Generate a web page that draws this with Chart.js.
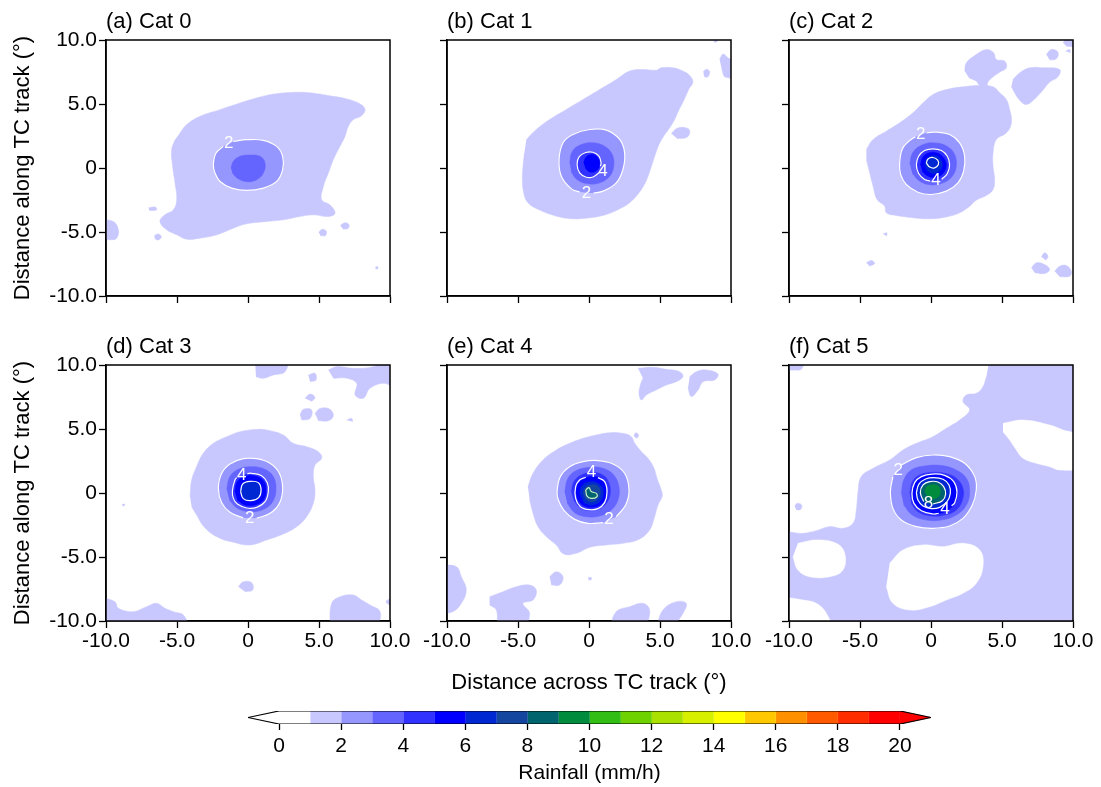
<!DOCTYPE html>
<html>
<head>
<meta charset="utf-8">
<script src="https://cdn.jsdelivr.net/npm/chart.js@4.4.1/dist/chart.umd.min.js"></script>
<style>
  body { margin: 0; background: #fff; width: 1101px; height: 787px; position: relative; overflow: hidden; }
  canvas { position: absolute; }
</style>
</head>
<body>
<script>
const FONT = '"Liberation Sans", Arial, Helvetica, sans-serif';

// rain-rate class edges (mm/h) and their fill colours
const levelEdges = [0,1,2,3,4,5,6,7,8,9,10,11,12,13,14,15,16,17,18,19,20];
const levelColors = ['#ffffff','#c8c8ff','#9696ff','#6464ff','#3232ff','#0000ff','#0028d2','#14469f','#00646e','#008c3c',
  '#32be14','#6ed200','#aae100','#d7f000','#ffff00','#ffc800','#ff9100','#ff5a00','#ff2d00','#ff0000'];
const underColor = '#ffffff';
const overColor = '#ff0000';
const cbTicks = [0,2,4,6,8,10,12,14,16,18,20];
const axisTicks = [-10,-5,0,5,10];

// ---- (a) Cat 0 ----
const catA_rain1 = [
  [[-4.79,2.73],[-4.32,3.39],[-3.38,4.04],[-1.97,4.56],[-0.56,5.08],[0.85,5.55],[2.02,5.81],[3.66,5.92],[4.84,5.81],[6.01,5.60],[6.95,5.40],[7.77,5.08],[8.24,4.61],[8.00,4.09],[7.42,3.78],[7.07,3.26],[6.83,2.47],[6.48,1.69],[6.01,0.65],[5.66,-0.40],[5.31,-1.44],[5.19,-2.48],[5.77,-2.88],[6.13,-3.53],[5.66,-3.79],[4.60,-3.66],[3.66,-3.79],[2.49,-4.05],[1.31,-4.18],[-0.09,-4.36],[-1.03,-4.70],[-2.21,-5.22],[-3.38,-5.48],[-4.32,-5.56],[-5.02,-5.22],[-5.73,-4.83],[-6.20,-4.18],[-5.85,-3.66],[-5.26,-3.27],[-5.02,-2.48],[-5.14,-1.18],[-5.31,0.13],[-5.38,1.43],[-5.14,2.21]],
  [[-10.5,-4.05],[-9.48,-4.18],[-9.13,-4.83],[-9.25,-5.48],[-9.72,-5.61],[-10.5,-5.48]],
  [[-7.0,-3.1],[-6.5,-3.06],[-6.45,-3.28],[-6.95,-3.32]],
  [[-6.6,-5.3],[-6.35,-5.15],[-6.1,-5.35],[-6.3,-5.62],[-6.55,-5.55]],
  [[4.98,-5.0],[5.25,-4.78],[5.52,-4.95],[5.45,-5.28],[5.1,-5.3]],
  [[6.5,-4.5],[6.8,-4.28],[7.1,-4.4],[7.05,-4.72],[6.7,-4.78]],
  [[8.98,-7.72],[9.14,-7.72],[9.14,-7.88],[8.98,-7.88]]
];
const catA_rain2 = [[-1.03,2.08],[-0.09,2.21],[1.08,2.16],[2.02,1.69],[2.44,0.91],[2.44,-0.13],[2.02,-1.05],[1.08,-1.57],[-0.09,-1.75],[-1.15,-1.57],[-1.97,-1.05],[-2.32,-0.40],[-2.44,0.26],[-2.25,1.17],[-1.74,1.69]];
const catA_rain3 = [[-1.20,0.00],[-1.03,0.52],[-0.56,0.91],[0.14,1.01],[0.85,0.91],[1.20,0.39],[1.08,-0.40],[0.61,-0.92],[-0.09,-1.07],[-0.75,-0.81],[-1.10,-0.40]];
const catA_labels = [['2',-1.35,1.92]];

// ---- (b) Cat 1 ----
const catB_rain1 = [
  [[-4.41,2.23],[-3.71,3.01],[-2.77,3.79],[-1.60,4.57],[-0.42,5.35],[0.75,6.13],[1.92,6.91],[2.86,7.57],[3.80,7.70],[4.74,7.64],[5.09,7.83],[5.92,7.83],[6.62,7.57],[7.09,7.23],[7.32,6.71],[7.04,6.18],[6.81,5.61],[6.57,5.04],[6.29,4.44],[6.03,3.79],[5.68,3.14],[5.26,2.49],[4.93,1.84],[4.69,1.13],[4.46,0.35],[4.23,-0.43],[3.94,-1.21],[3.52,-1.94],[2.91,-2.67],[2.16,-3.19],[1.22,-3.63],[0.05,-3.89],[-1.13,-3.97],[-2.30,-3.76],[-3.47,-3.29],[-4.30,-2.72],[-4.60,-1.94],[-4.69,-0.90],[-4.65,0.14],[-4.55,1.18]],
  [[5.8,2.7],[6.2,3.1],[6.8,3.15],[7.1,2.9],[6.9,2.4],[6.2,2.3]],
  [[9.2,8.5],[9.45,8.9],[9.8,8.6],[10.5,8.2],[10.5,7.2],[9.6,7.1],[9.35,7.7]],
  [[8.05,7.55],[8.3,7.72],[8.5,7.5],[8.35,7.1],[8.1,7.15]],
  [[8.7,10.3],[9.1,10.3],[9.0,9.85],[8.8,9.85]]
];
const catB_rain2 = [[-0.65,-1.88],[-1.24,-1.63],[-1.95,-0.64],[-2.11,0.64],[-1.83,1.97],[-1.13,2.62],[0.05,3.01],[1.22,2.96],[2.16,2.23],[2.51,1.18],[2.39,-0.12],[1.92,-1.16],[0.99,-1.81],[0.30,-1.97]];
const catB_rain3 = [[-1.36,0.40],[-1.17,1.31],[-0.54,1.83],[0.28,1.97],[1.10,1.70],[1.64,1.05],[1.74,0.14],[1.46,-0.64],[0.75,-1.16],[-0.07,-1.24],[-0.85,-0.90],[-1.24,-0.33]];
const catB_rain4 = [[0.70,-0.38],[0.28,-0.70],[-0.19,-0.72],[-0.66,-0.38],[-0.84,0.27],[-0.70,0.87],[-0.23,1.21],[0.28,1.23],[0.70,0.92],[0.85,0.40],[0.80,0.14]];
const catB_rain5 = [[-0.38,0.40],[-0.19,0.87],[0.23,1.05],[0.63,0.79],[0.75,0.27],[0.56,-0.17],[0.12,-0.33],[-0.23,-0.07]];
const catB_labels = [['2',-0.18,-1.98],['4',0.98,-0.25]];

// ---- (c) Cat 2 ----
const catC_rain1 = [
  [[-4.55,1.45],[-4.08,2.23],[-3.15,2.88],[-2.21,3.53],[-1.27,4.31],[-0.56,5.09],[0.14,5.74],[1.08,6.13],[2.25,6.34],[3.43,6.45],[4.37,6.34],[4.84,5.87],[5.31,5.35],[5.54,4.57],[5.66,3.92],[5.61,3.27],[5.26,2.70],[4.60,2.23],[4.37,1.18],[4.37,0.14],[4.48,-0.90],[4.37,-1.68],[3.90,-2.15],[3.19,-2.51],[2.68,-3.03],[2.02,-3.50],[1.08,-3.82],[-0.09,-3.97],[-1.27,-3.89],[-2.44,-3.71],[-3.15,-3.50],[-3.26,-2.98],[-3.80,-2.46],[-4.08,-1.42],[-4.32,-0.38],[-4.55,0.66]],
  [[2.37,7.57],[2.49,8.22],[3.08,8.79],[3.90,9.26],[4.41,9.00],[4.60,8.48],[5.19,8.35],[5.31,7.83],[4.84,7.49],[4.37,7.12],[4.01,6.71],[3.90,6.34],[3.47,6.39],[3.19,6.78],[2.68,7.04]],
  [[5.77,6.91],[6.24,7.43],[6.95,7.83],[7.89,7.83],[9.06,7.70],[8.94,7.12],[8.36,6.71],[7.89,6.09],[7.30,5.40],[6.71,4.96],[6.24,5.30],[5.89,5.87],[5.66,6.39]],
  [[8.12,8.87],[8.47,9.26],[8.94,9.05],[8.83,8.53],[8.36,8.43]],
  [[9.30,9.78],[9.65,10.3],[10.5,10.3],[10.5,9.52],[9.53,9.52]],
  [[9.48,9.13],[9.77,9.26],[9.81,9.00]],
  [[7.07,-7.80],[7.42,-7.41],[8.00,-7.54],[8.36,-7.93],[8.00,-8.24],[7.30,-8.18]],
  [[8.71,-8.06],[9.06,-7.67],[9.53,-7.62],[9.88,-8.06],[9.77,-8.45],[9.06,-8.50]],
  [[7.77,-6.94],[8.00,-6.63],[8.24,-6.89],[8.08,-7.20]],
  [[-4.55,-7.41],[-4.20,-7.23],[-3.97,-7.46],[-4.32,-7.67]],
  [[-3.38,-5.14],[-3.10,-5.07],[-3.15,-5.33]]
];
const catC_rain2 = [[-0.30,2.75],[0.38,2.80],[1.31,2.62],[2.02,1.97],[2.37,0.92],[2.30,-0.25],[1.90,-1.16],[1.08,-1.81],[0.02,-2.07],[-0.92,-1.89],[-1.74,-1.29],[-2.14,-0.51],[-2.21,0.40],[-2.02,1.49],[-1.55,2.10],[-1.10,2.45]];
const catC_rain3 = [[-1.50,0.35],[-1.27,1.23],[-0.56,1.83],[0.26,1.96],[1.13,1.70],[1.67,1.05],[1.78,0.14],[1.50,-0.64],[0.85,-1.16],[0.02,-1.32],[-0.80,-1.03],[-1.31,-0.43]];
const catC_rain4 = [[-0.05,-1.02],[-0.45,-0.90],[-0.87,-0.43],[-1.03,0.25],[-0.87,0.92],[-0.45,1.37],[0.14,1.50],[0.73,1.37],[1.15,0.92],[1.31,0.25],[1.15,-0.43],[0.75,-0.88]];
const catC_rain5 = [[-0.75,0.25],[-0.56,0.87],[-0.16,1.18],[0.42,1.18],[0.89,0.79],[1.08,0.20],[0.85,-0.43],[0.33,-0.72],[-0.21,-0.64],[-0.61,-0.27]];
const catC_rain6 = [[-0.45,0.27],[-0.26,0.77],[0.19,0.98],[0.61,0.79],[0.80,0.27],[0.61,-0.22],[0.14,-0.43],[-0.28,-0.20]];
const catC_inner = [[-0.33,0.40],[-0.21,0.71],[0.14,0.82],[0.47,0.61],[0.52,0.27],[0.26,0.01],[-0.09,0.07]];
const catC_labels = [['2',-0.72,2.62],['4',0.35,-1.0]];

// ---- (d) Cat 3 ----
const catD_rain1 = [
  [[-4.08,-0.29],[-3.97,1.02],[-3.62,2.06],[-3.15,3.10],[-2.44,3.88],[-1.50,4.40],[-0.56,4.79],[0.61,4.97],[1.55,4.87],[2.49,4.53],[3.19,3.88],[4.13,3.62],[4.95,3.23],[5.19,2.71],[4.72,2.19],[4.60,1.28],[4.72,0.23],[4.60,-0.81],[4.13,-1.85],[3.43,-2.63],[2.49,-3.20],[1.31,-3.67],[0.14,-4.06],[-1.03,-3.85],[-2.21,-3.41],[-3.10,-2.63],[-3.62,-1.72],[-3.97,-1.07]],
  [[0.49,10.5],[2.72,10.5],[2.61,9.48],[1.78,9.22],[1.08,8.96],[0.56,9.09]],
  [[5.66,9.61],[6.24,9.87],[7.42,9.74],[8.83,9.87],[10.5,10.5],[10.5,8.31],[9.53,8.57],[8.59,8.18],[8.12,7.40],[7.54,7.66],[7.65,8.57],[6.95,8.96],[6.01,8.96]],
  [[4.25,9.22],[4.72,9.35],[4.79,8.83],[4.37,8.70]],
  [[4.01,7.40],[4.37,7.73],[4.72,7.47],[4.48,7.14]],
  [[3.66,6.09],[3.90,6.54],[4.48,6.48],[4.37,5.83],[3.78,5.70]],
  [[4.72,6.22],[5.07,6.61],[5.77,6.54],[6.01,6.02],[5.66,5.65],[4.95,5.65]],
  [[6.95,5.70],[7.30,5.83],[7.38,5.57]],
  [[-10.5,-8.10],[-9.37,-8.49],[-9.13,-9.01],[-8.08,-9.27],[-7.14,-8.88],[-6.43,-8.62],[-5.85,-9.01],[-5.26,-9.27],[-4.55,-9.53],[-4.32,-10.5],[-10.5,-10.5]],
  [[5.77,-10.5],[5.89,-8.62],[6.48,-8.10],[7.42,-7.97],[8.00,-8.36],[8.59,-8.75],[9.30,-9.27],[9.18,-10.5]],
  [[10.5,-8.10],[9.72,-8.49],[10.5,-9.01]],
  [[-0.68,-7.32],[-0.33,-6.93],[0.26,-7.01],[0.33,-7.58],[-0.21,-7.71]],
  [[-8.85,-0.88],[-8.7,-0.88],[-8.7,-1.0],[-8.85,-1.0]]
];
const catD_rain2 = [[-0.33,-1.95],[-1.27,-1.51],[-1.85,-0.76],[-2.09,0.36],[-1.85,1.54],[-1.27,2.27],[-0.33,2.68],[0.61,2.68],[1.55,2.32],[2.21,1.54],[2.44,0.36],[2.21,-0.81],[1.55,-1.59],[0.61,-1.98]];
const catD_rain3 = [[-1.50,0.31],[-1.27,1.28],[-0.68,1.85],[0.26,2.06],[1.20,1.85],[1.78,1.28],[1.97,0.31],[1.74,-0.68],[1.08,-1.28],[0.14,-1.46],[-0.75,-1.20],[-1.31,-0.55]];
const catD_rain4 = [[-0.05,1.52],[0.26,1.54],[0.96,1.35],[1.36,0.80],[1.43,0.10],[1.20,-0.68],[0.61,-1.12],[-0.09,-1.17],[-0.75,-0.86],[-1.03,-0.42],[-1.10,0.18],[-0.92,1.02],[-0.80,1.20]];
const catD_rain5 = [[-0.92,0.10],[-0.75,0.89],[-0.21,1.28],[0.49,1.33],[1.08,0.96],[1.27,0.23],[1.08,-0.55],[0.49,-0.94],[-0.21,-0.94],[-0.75,-0.55]];
const catD_rain6 = [[-0.52,0.10],[-0.38,0.70],[0.14,0.91],[0.73,0.81],[0.92,0.23],[0.75,-0.36],[0.19,-0.60],[-0.33,-0.44]];
const catD_labels = [['2',0.12,-1.98],['4',-0.45,1.40]];

// ---- (e) Cat 4 ----
const catE_rain1 = [
  [[-4.30,0.49],[-3.94,1.54],[-3.24,2.58],[-2.30,3.36],[-1.36,3.88],[-0.42,4.27],[0.52,4.53],[1.46,4.71],[2.39,4.66],[2.98,4.40],[3.22,3.88],[3.69,3.23],[4.15,2.71],[4.55,2.01],[4.79,1.15],[5.09,0.23],[5.16,-0.23],[4.86,-0.94],[4.62,-1.85],[4.27,-2.89],[3.52,-3.62],[2.39,-3.93],[1.22,-4.06],[0.05,-4.24],[-0.89,-4.71],[-1.78,-4.77],[-2.30,-4.06],[-3.00,-3.41],[-3.59,-2.63],[-3.94,-1.59],[-4.18,-0.55]],
  [[3.15,4.45],[3.3,4.7],[3.5,4.5],[3.35,4.25]],
  [[3.45,9.74],[4.51,9.82],[5.45,9.66],[6.38,9.48],[6.62,9.09],[6.15,8.70],[5.45,8.44],[4.74,8.05],[4.04,7.66],[3.69,7.27],[3.52,7.79],[3.62,8.44],[3.80,8.96]],
  [[7.09,9.09],[7.56,9.48],[8.26,9.61],[9.08,9.30],[8.85,8.83],[8.03,8.70],[7.68,8.05],[7.21,7.53],[6.97,8.18]],
  [[-10.5,-5.63],[-9.34,-5.76],[-8.99,-6.54],[-8.64,-7.58],[-8.99,-8.62],[-9.58,-9.27],[-10.5,-9.40]],
  [[-7.00,-8.10],[-6.06,-7.71],[-5.12,-7.32],[-4.18,-7.19],[-3.71,-7.58],[-3.94,-8.36],[-4.65,-8.62],[-4.18,-9.40],[-4.65,-10.5],[-6.29,-10.5],[-6.53,-9.14],[-7.00,-8.75]],
  [[-2.77,-6.54],[-2.30,-6.15],[-1.83,-6.54],[-2.07,-7.19],[-2.65,-7.19]],
  [[1.46,-10.5],[1.92,-9.27],[2.86,-8.88],[3.80,-8.62],[4.27,-9.14],[4.04,-10.5]],
  [[4.74,-10.5],[5.21,-9.14],[6.15,-8.49],[6.85,-8.62],[6.62,-9.40],[5.92,-10.5]],
  [[-0.05,-6.6],[0.15,-6.6],[0.15,-6.78],[-0.05,-6.78]]
];
const catE_rain2 = [[0.99,-2.32],[-0.07,-2.37],[-1.01,-2.06],[-1.78,-1.33],[-2.16,-0.55],[-2.25,0.08],[-2.02,1.28],[-1.36,2.06],[-0.42,2.45],[0.63,2.53],[1.69,2.27],[2.51,1.54],[2.82,0.23],[2.58,-0.94],[1.92,-1.85]];
const catE_rain3 = [[-1.71,0.08],[-1.48,1.15],[-0.89,1.75],[0.05,2.01],[0.99,1.93],[1.74,1.41],[2.11,0.49],[2.04,-0.55],[1.57,-1.33],[0.75,-1.80],[-0.19,-1.85],[-1.01,-1.54],[-1.53,-0.81]];
const catE_rain4 = [[-1.24,0.08],[-1.06,0.89],[-0.54,1.41],[0.16,1.59],[0.87,1.46],[1.34,0.96],[1.50,0.10],[1.27,-0.73],[0.70,-1.25],[0.00,-1.38],[-0.66,-1.12],[-1.08,-0.55]];
const catE_rain5 = [[-0.94,0.08],[-0.75,0.76],[-0.31,1.15],[0.28,1.28],[0.87,1.10],[1.17,0.55],[1.17,-0.29],[0.87,-0.86],[0.23,-1.12],[-0.42,-0.96],[-0.82,-0.49]];
const catE_rain6 = [[-0.66,-0.03],[-0.49,0.57],[-0.02,0.86],[0.52,0.83],[0.92,0.44],[0.99,-0.16],[0.75,-0.68],[0.19,-0.94],[-0.35,-0.78]];
const catE_rain7 = [[-0.42,-0.03],[-0.26,0.44],[0.16,0.65],[0.61,0.55],[0.80,0.03],[0.61,-0.49],[0.14,-0.70],[-0.26,-0.49]];
const catE_rain8 = [[-0.23,0.24],[0.00,0.42],[0.16,0.11],[0.52,-0.03],[0.56,-0.29],[0.16,-0.42],[-0.14,-0.24]];
const catE_c4 = [[0.63,1.20],[1.10,0.89],[1.27,0.10],[1.10,-0.75],[0.63,-1.22],[0.00,-1.30],[-0.61,-1.07],[-0.94,-0.42],[-0.94,0.49],[-0.66,1.02],[-0.23,1.23]];
const catE_labels = [['2',1.40,-2.05],['4',0.18,1.62]];

// ---- (f) Cat 5 ----
const catF_rain1 = [
  [[4.13,10.5],[10.5,10.5],[10.5,-10.5],[-10.5,-10.5],[-10.5,-3.28],[-9.01,-3.15],[-8.08,-2.94],[-7.14,-2.63],[-6.20,-2.76],[-5.49,-2.37],[-5.26,-1.33],[-5.14,0.10],[-4.91,1.28],[-4.08,1.93],[-2.91,2.58],[-1.97,3.36],[-1.03,3.88],[0.14,4.40],[1.08,5.05],[2.02,5.70],[2.72,6.48],[2.25,7.14],[2.49,7.66],[3.19,7.79],[3.66,8.31],[3.90,9.09]],
  [[-10.5,10.5],[-9.0,10.5],[-9.1,9.7],[-9.6,9.6],[-10.5,9.65]],
  [[-9.6,-1.0],[-9.4,-0.8],[-9.1,-0.95],[-9.2,-1.3],[-9.5,-1.3]]
];
const catF_dry = [
  [[5.07,5.44],[6.48,5.70],[8.36,5.31],[9.30,4.92],[10.5,4.40],[10.5,2.06],[9.06,1.80],[8.36,2.06],[7.42,2.32],[6.48,2.71],[6.01,3.36],[5.54,4.14],[5.07,4.79]],
  [[-2.91,-5.49],[-1.97,-4.45],[-0.56,-4.06],[0.85,-4.19],[2.25,-3.93],[3.43,-4.45],[3.66,-5.75],[3.19,-7.06],[2.25,-7.84],[1.08,-8.36],[-0.09,-8.88],[-1.50,-9.14],[-2.68,-8.62],[-3.15,-7.32]],
  [[-9.37,-3.93],[-8.08,-3.67],[-6.67,-3.93],[-6.08,-4.71],[-6.20,-6.02],[-7.14,-6.54],[-8.54,-6.54],[-9.37,-6.02],[-9.72,-4.97]],
  [[-10.5,-8.10],[-9.01,-8.36],[-8.08,-8.62],[-7.37,-9.40],[-7.14,-10.5],[-10.5,-10.5]]
];
const catF_rain2 = [[-2.09,2.19],[-1.03,2.76],[0.14,2.97],[1.31,2.84],[2.37,2.32],[3.08,1.28],[3.19,0.23],[2.91,-0.94],[2.25,-1.98],[1.31,-2.58],[0.14,-2.76],[-1.03,-2.63],[-2.09,-2.11],[-2.68,-1.20],[-2.86,0.10],[-2.68,1.28]];
const catF_rain3 = [[-2.09,-0.03],[-1.92,1.02],[-1.39,1.80],[-0.45,2.11],[0.61,2.16],[1.67,1.85],[2.49,1.15],[2.72,0.10],[2.49,-0.94],[1.78,-1.72],[0.73,-2.11],[-0.33,-2.11],[-1.32,-1.72],[-1.92,-0.94]];
const catF_rain4 = [[-1.50,-0.03],[-1.31,0.89],[-0.80,1.41],[0.02,1.61],[0.96,1.54],[1.78,1.15],[2.25,0.36],[2.21,-0.55],[1.78,-1.33],[0.96,-1.72],[0.02,-1.80],[-0.92,-1.46],[-1.39,-0.81]];
const catF_rain5 = [[-1.34,-0.03],[-1.15,0.81],[-0.68,1.28],[0.09,1.48],[0.96,1.38],[1.60,0.89],[1.83,0.10],[1.67,-0.76],[1.08,-1.41],[0.19,-1.64],[-0.68,-1.38],[-1.20,-0.81]];
const catF_rain6 = [[-1.03,0.03],[-0.85,0.70],[-0.38,1.09],[0.19,1.20],[0.85,1.07],[1.27,0.63],[1.36,-0.03],[1.13,-0.68],[0.61,-1.12],[0.02,-1.22],[-0.56,-1.02],[-0.92,-0.55]];
const catF_rain8 = [[-0.75,0.03],[-0.56,0.63],[-0.09,0.89],[0.49,0.86],[0.89,0.50],[1.03,-0.08],[0.80,-0.60],[0.19,-0.86],[-0.45,-0.73]];
const catF_rain9 = [[-0.45,0.10],[-0.30,0.50],[0.10,0.65],[0.50,0.55],[0.65,0.20],[0.55,-0.25],[0.15,-0.45],[-0.25,-0.30]];
const catF_c4 = [[0.55,-1.58],[0.19,-1.64],[-0.68,-1.38],[-1.20,-0.81],[-1.34,-0.03],[-1.15,0.81],[-0.68,1.28],[0.09,1.48],[0.96,1.38],[1.60,0.89],[1.83,0.10],[1.67,-0.76],[1.45,-1.0]];
const catF_c8 = [[0.15,-0.86],[0.80,-0.60],[1.03,-0.08],[0.89,0.50],[0.49,0.86],[-0.09,0.89],[-0.56,0.63],[-0.75,0.03],[-0.52,-0.66]];
const catF_labels = [['2',-2.3,1.8],['4',0.98,-1.3],['8',-0.18,-0.8]];

// panel placement (plot-area corners in page pixels)
const PLOT_LEFT = [106, 447, 789];
const PLOT_TOP = [40, 365];
const PLOT_W = 284, PLOT_H = 256;
const YAX_W = 106, TOP_PAD = 40, RIGHT_PAD = 30;

const closeLoop = p => p.concat([p[0]]);
const W = '#ffffff';

const panels = [
  { title: '(a) Cat 0', col: 0, row: 0,
    layers: [[1, catA_rain1], [2, [catA_rain2]], [3, [catA_rain3]]],
    lines: [[catA_rain2, W]], labels: catA_labels },
  { title: '(b) Cat 1', col: 1, row: 0,
    layers: [[1, catB_rain1], [2, [catB_rain2]], [3, [catB_rain3]], [4, [catB_rain4]], [5, [catB_rain5]]],
    lines: [[catB_rain2, W], [catB_rain4, W]], labels: catB_labels },
  { title: '(c) Cat 2', col: 2, row: 0,
    layers: [[1, catC_rain1], [2, [catC_rain2]], [3, [catC_rain3]], [4, [catC_rain4]], [5, [catC_rain5]], [6, [catC_rain6]]],
    lines: [[catC_rain2, W], [catC_rain4, W], [closeLoop(catC_inner), W]], labels: catC_labels },
  { title: '(d) Cat 3', col: 0, row: 1,
    layers: [[1, catD_rain1], [2, [catD_rain2]], [3, [catD_rain3]], [4, [catD_rain4]], [5, [catD_rain5]], [6, [catD_rain6]]],
    lines: [[catD_rain2, W], [catD_rain4, W], [closeLoop(catD_rain6), W]], labels: catD_labels },
  { title: '(e) Cat 4', col: 1, row: 1, xTitle: 'Distance across TC track (°)',
    layers: [[1, catE_rain1], [2, [catE_rain2]], [3, [catE_rain3]], [4, [catE_rain4]], [5, [catE_rain5]], [6, [catE_rain6]], [7, [catE_rain7]], [8, [catE_rain8]]],
    lines: [[catE_rain2, W], [catE_c4, W], [closeLoop(catE_rain8), '#c8f0c8']], labels: catE_labels },
  { title: '(f) Cat 5', col: 2, row: 1,
    layers: [[1, catF_rain1], [0, catF_dry], [2, [catF_rain2]], [3, [catF_rain3]], [4, [catF_rain4]], [5, [catF_rain5]], [6, [catF_rain6]], [8, [catF_rain8]], [9, [catF_rain9]]],
    lines: [[catF_rain2, W], [catF_c4, W], [closeLoop(catF_rain6), W], [catF_c8, W]], labels: catF_labels }
];

Chart.defaults.font.family = FONT;
Chart.defaults.color = '#000';

const toXY = p => p.map(([x, y]) => ({ x, y }));
const tickFmt = v => (v === 0 ? '0' : v.toFixed(1));

const panelDecor = {
  id: 'panelDecor',
  afterDatasetsDraw(chart, args, opts) {
    const { ctx, chartArea: a, scales: { x, y } } = chart;
    ctx.save();
    ctx.strokeStyle = '#000';
    ctx.lineWidth = 1.5;
    ctx.strokeRect(a.left, a.top, a.right - a.left, a.bottom - a.top);
    ctx.fillStyle = '#fff';
    ctx.font = '17px ' + FONT;
    ctx.textAlign = 'center';
    ctx.textBaseline = 'middle';
    (opts.labels || []).forEach(([t, vx, vy]) => ctx.fillText(t, x.getPixelForValue(vx), y.getPixelForValue(vy)));
    if (opts.title) {
      ctx.fillStyle = '#000';
      ctx.font = '22px ' + FONT;
      ctx.textAlign = 'left';
      ctx.fillText(opts.title, a.left, a.top - 18);
    }
    ctx.restore();
  }
};

function makeCanvas(left, top, w, h) {
  const c = document.createElement('canvas');
  c.width = w; c.height = h;
  c.style.left = left + 'px'; c.style.top = top + 'px';
  c.style.width = w + 'px'; c.style.height = h + 'px';
  document.body.appendChild(c);
  return c;
}

panels.forEach(p => {
  const bottomH = p.row === 1 ? 79 : 12;
  const w = YAX_W + PLOT_W + RIGHT_PAD;
  const h = TOP_PAD + PLOT_H + bottomH;
  const cv = makeCanvas(PLOT_LEFT[p.col] - YAX_W, PLOT_TOP[p.row] - TOP_PAD, w, h);

  const datasets = [];
  let k = 0;
  p.layers.forEach(([lvl, polys]) => {
    polys.forEach(poly => {
      datasets.push({ data: toXY(poly), fill: 'shape', backgroundColor: levelColors[lvl], borderColor: levelColors[lvl],
        borderWidth: 0.5, tension: 0.4, pointRadius: 0, order: -(k++) });
    });
  });
  p.lines.forEach(([poly, col]) => {
    datasets.push({ data: toXY(poly), fill: false, borderColor: col, borderWidth: 1.2, tension: 0.4, pointRadius: 0, order: -(k++) });
  });

  new Chart(cv, {
    type: 'line',
    data: { datasets },
    options: {
      responsive: false, animation: false, devicePixelRatio: 1, events: [],
      layout: { padding: { left: 0, top: TOP_PAD, right: RIGHT_PAD, bottom: 0 } },
      plugins: { legend: { display: false }, tooltip: { enabled: false }, panelDecor: { title: p.title, labels: p.labels } },
      scales: {
        x: {
          type: 'linear', min: -10, max: 10, position: 'bottom',
          afterBuildTicks: s => { s.ticks = axisTicks.map(v => ({ value: v })); },
          ticks: { display: p.row === 1, font: { size: 21 }, color: '#000', padding: 1, maxRotation: 0, autoSkip: false, callback: tickFmt },
          grid: { drawOnChartArea: false, drawTicks: true, tickLength: 7, tickColor: '#000', tickWidth: 1.3 },
          border: { display: true, color: '#000', width: 1.5 },
          title: { display: !!p.xTitle, text: p.xTitle || '', font: { size: 22 }, color: '#000', padding: { top: 0, bottom: 4 } },
          afterFit: s => { s.height = bottomH; s.paddingLeft = 0; s.paddingRight = 0; }
        },
        y: {
          type: 'linear', min: -10, max: 10, position: 'left',
          afterBuildTicks: s => { s.ticks = axisTicks.map(v => ({ value: v })); },
          ticks: { display: p.col === 0, font: { size: 21 }, color: '#000', padding: 2, autoSkip: false, callback: tickFmt },
          grid: { drawOnChartArea: false, drawTicks: true, tickLength: 7, tickColor: '#000', tickWidth: 1.3 },
          border: { display: true, color: '#000', width: 1.5 },
          title: { display: p.col === 0, text: 'Distance along TC track (°)', font: { size: 22 }, color: '#000', padding: { top: 10, bottom: 0 } },
          afterFit: s => { s.width = YAX_W; s.paddingTop = 0; s.paddingBottom = 0; }
        }
      }
    },
    plugins: [panelDecor]
  });
});

// ---- colour bar ----
(function () {
  const cv = makeCanvas(230, 700, 720, 87);
  const datasets = [];
  const n = levelColors.length;
  const lo = levelEdges[0], hi = levelEdges[n];
  datasets.push({ data: toXY([[lo - 1, 0.5], [lo, 1], [hi, 1], [hi + 1, 0.5], [hi, 0], [lo, 0], [lo - 1, 0.5]]),
    fill: false, borderColor: '#000', borderWidth: 1.2, tension: 0, pointRadius: 0 });
  levelColors.forEach((c, i) => {
    const a = levelEdges[i], b = levelEdges[i + 1];
    datasets.push({ data: toXY([[a, 0], [b, 0], [b, 1], [a, 1]]), fill: 'shape', backgroundColor: c, borderColor: c,
      borderWidth: 0.5, tension: 0, pointRadius: 0 });
  });
  datasets.push({ data: toXY([[lo - 1, 0.5], [lo, 1], [lo, 0]]), fill: 'shape', backgroundColor: underColor, borderColor: underColor, borderWidth: 0.5, tension: 0, pointRadius: 0 });
  datasets.push({ data: toXY([[hi, 0], [hi + 1, 0.5], [hi, 1]]), fill: 'shape', backgroundColor: overColor, borderColor: overColor, borderWidth: 0.5, tension: 0, pointRadius: 0 });

  new Chart(cv, {
    type: 'line',
    data: { datasets },
    options: {
      responsive: false, animation: false, devicePixelRatio: 1, events: [],
      layout: { padding: { left: 18, top: 11, right: 19, bottom: 0 } },
      plugins: { legend: { display: false }, tooltip: { enabled: false } },
      scales: {
        x: {
          type: 'linear', min: lo - 1, max: hi + 1,
          afterBuildTicks: s => { s.ticks = cbTicks.map(v => ({ value: v })); },
          ticks: { font: { size: 21 }, color: '#000', padding: 4, maxRotation: 0, autoSkip: false },
          grid: { drawOnChartArea: false, drawTicks: true, tickLength: 6, tickColor: '#000', tickWidth: 1.3 },
          border: { display: false },
          title: { display: true, text: 'Rainfall (mm/h)', font: { size: 21 }, color: '#000', padding: { top: 0, bottom: 1 } },
          afterFit: s => { s.height = 63; s.paddingLeft = 0; s.paddingRight = 0; }
        },
        y: { type: 'linear', min: 0, max: 1, display: false }
      }
    }
  });
})();
</script>
</body>
</html>
